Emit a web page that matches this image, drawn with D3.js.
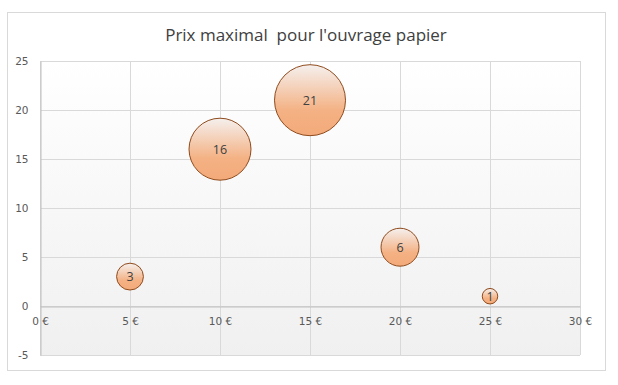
<!DOCTYPE html>
<html><head><meta charset="utf-8">
<script src="https://cdn.jsdelivr.net/npm/d3@7"></script>
<style>body{margin:0;background:#fff}svg{display:block}</style>
</head><body>
<svg id="c" width="618" height="385"></svg>
<script>
const title = "Prix maximal\u00a0 pour l'ouvrage papier";
const prices = [5, 10, 15, 20, 25];
const counts = [3, 16, 21, 6, 1];
const sizes = [3, 16, 21, 6, 1];
const xTicks = [0, 5, 10, 15, 20, 25, 30];
const yTicks = [-5, 0, 5, 10, 15, 20, 25];

const svg = d3.select("#c");
const m = {l: 40, r: 580, t: 61, b: 355};
const x = d3.scaleLinear().domain([0, 30]).range([m.l, m.r]);
const y = d3.scaleLinear().domain([-5, 25]).range([m.b, m.t]);
const r = d3.scaleSqrt().domain([0, 21]).range([0, 35.5]);

const defs = svg.append("defs");
const pg = defs.append("linearGradient").attr("id", "pg").attr("x1", 0).attr("y1", 0).attr("x2", 0).attr("y2", 1);
pg.append("stop").attr("offset", "0%").attr("stop-color", "#ffffff");
pg.append("stop").attr("offset", "100%").attr("stop-color", "#f0f0f0");
const bg = defs.append("linearGradient").attr("id", "bg").attr("x1", 0).attr("y1", 0).attr("x2", 0).attr("y2", 1);
bg.append("stop").attr("offset", "0%").attr("stop-color", "#f5f0ee");
bg.append("stop").attr("offset", "65%").attr("stop-color", "#f4b183");
bg.append("stop").attr("offset", "100%").attr("stop-color", "#f3aa7a");

svg.append("rect").attr("x", 7.5).attr("y", 12.5).attr("width", 598).attr("height", 358)
  .attr("fill", "#fff").attr("stroke", "#d9d9d9");

svg.append("rect").attr("x", m.l).attr("y", m.t).attr("width", m.r - m.l).attr("height", m.b - m.t)
  .attr("fill", "url(#pg)");

// gridlines
svg.append("g").selectAll("line").data(yTicks).join("line")
  .attr("x1", m.l).attr("x2", m.r)
  .attr("y1", d => Math.round(y(d)) + 0.5).attr("y2", d => Math.round(y(d)) + 0.5)
  .attr("stroke", "#d9d9d9");
svg.append("g").selectAll("line").data(xTicks).join("line")
  .attr("y1", m.t).attr("y2", m.b)
  .attr("x1", d => Math.round(x(d)) + 0.5).attr("x2", d => Math.round(x(d)) + 0.5)
  .attr("stroke", "#d9d9d9");

const tickFont = "Tahoma, DejaVu Sans, Verdana, sans-serif";
// y-axis
const yAxis = svg.append("g").attr("transform", `translate(${m.l + 0.5},0)`)
  .call(d3.axisLeft(y).tickValues(yTicks).tickSize(0).tickPadding(12).tickFormat(d => String(d)));
yAxis.select(".domain").attr("stroke", "#bfbfbf");
yAxis.selectAll("text").attr("font-family", tickFont).attr("font-size", 10.5).attr("fill", "#595959");

// x-axis at y=0
const xAxis = svg.append("g").attr("transform", `translate(0,${Math.round(y(0)) + 0.5})`)
  .call(d3.axisBottom(x).tickValues(xTicks).tickSize(0).tickPadding(11).tickFormat(d => d + " €"));
xAxis.select(".domain").attr("stroke", "#bfbfbf");
xAxis.selectAll("text").attr("font-family", tickFont).attr("font-size", 10.5).attr("fill", "#595959");

// bubbles
const data = prices.map((p, i) => ({p, c: counts[i], s: sizes[i]}));
const g = svg.append("g");
g.selectAll("circle").data(data).join("circle")
  .attr("cx", d => x(d.p)).attr("cy", d => y(d.c)).attr("r", d => r(d.s))
  .attr("fill", "url(#bg)").attr("stroke", "#8f4a1c").attr("stroke-width", 1);
g.selectAll("text").data(data).join("text")
  .attr("x", d => x(d.p)).attr("y", d => y(d.c)).attr("dy", "0.36em")
  .attr("text-anchor", "middle")
  .attr("font-family", "Open Sans, sans-serif").attr("font-size", 12.5).attr("fill", "#404040")
  .text(d => d.c);

svg.append("text").attr("x", 306).attr("y", 41).attr("text-anchor", "middle")
  .attr("font-family", "Open Sans, sans-serif").attr("font-size", 17).attr("fill", "#404040")
  .text(title);
</script>
</body></html>
